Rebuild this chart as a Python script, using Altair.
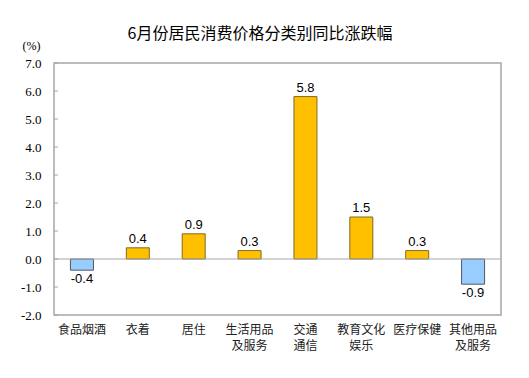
import altair as alt
import pandas as pd

categories = ["食品烟酒", "衣着", "居住", "生活用品\n及服务", "交通\n通信", "教育文化\n娱乐", "医疗保健", "其他用品\n及服务"]
values = [-0.4, 0.4, 0.9, 0.3, 5.8, 1.5, 0.3, -0.9]
y_ticks = [-2.0, -1.0, 0.0, 1.0, 2.0, 3.0, 4.0, 5.0, 6.0, 7.0]
title_text = "6月份居民消费价格分类别同比涨跌幅"

df = pd.DataFrame({"cat": categories, "val": values})
df["sign"] = ["neg" if v < 0 else "pos" for v in values]
df["lab"] = [f"{v:.1f}" for v in values]
ticks_df = pd.DataFrame({"t": y_ticks})

serif = "Liberation Serif"

yscale = alt.Scale(domain=[-2, 7], nice=False, zero=False)
yaxis = alt.Axis(values=y_ticks, title="(%)", titleAngle=0,
                 titleX=-23, titleY=-18, titleAlign="center", titleBaseline="middle",
                 titleFont=serif, titleFontSize=12, titleFontWeight="normal",
                 titleColor="#000000",
                 labelExpr="(datum.value < 0 ? '-' : '') + format(abs(datum.value), '.1f')",
                 labelFont=serif, labelFontSize=13, labelColor="#000000",
                 labelPadding=13, ticks=False, domain=False, grid=False,
                 labelOverlap=False)
xaxis = alt.Axis(title=None, labelAngle=0, ticks=False, domain=False,
                 labelExpr="split(datum.label, '\\n')",
                 labelFont="Noto Sans CJK SC", labelFontSize=12,
                 labelColor="#222222", labelPadding=9, labelLineHeight=16,
                 labelOverlap=False, labelLimit=60)

base = alt.Chart(df)

bars = base.mark_bar(size=23, strokeWidth=1).encode(
    x=alt.X("cat:N", sort=categories, axis=xaxis),
    y=alt.Y("val:Q", scale=yscale, axis=yaxis),
    color=alt.Color("sign:N", scale=alt.Scale(domain=["pos", "neg"], range=["#FFC000", "#99CCFF"]), legend=None),
    stroke=alt.Stroke("sign:N", scale=alt.Scale(domain=["pos", "neg"], range=["#7F6A20", "#4D5A66"]), legend=None),
)

zero = alt.Chart(pd.DataFrame({"z": [0]})).mark_rule(color="#A6A6A6", strokeWidth=1).encode(
    y=alt.Y("z:Q", scale=yscale, axis=yaxis)
)

tick_marks = alt.Chart(ticks_df).mark_rule(color="#A6A6A6", strokeWidth=1).encode(
    y=alt.Y("t:Q", scale=yscale, axis=yaxis), x=alt.value(0), x2=alt.value(4)
)

pos_labels = base.transform_filter("datum.val >= 0").mark_text(
    baseline="bottom", dy=-2, font="Liberation Sans", fontSize=13, color="#000000"
).encode(x=alt.X("cat:N", sort=categories, axis=xaxis), y=alt.Y("val:Q", scale=yscale, axis=yaxis), text="lab:N")

neg_labels = base.transform_filter("datum.val < 0").mark_text(
    baseline="top", dy=3, font="Liberation Sans", fontSize=13, color="#000000"
).encode(x=alt.X("cat:N", sort=categories, axis=xaxis), y=alt.Y("val:Q", scale=yscale, axis=yaxis), text="lab:N")

title = alt.Chart(pd.DataFrame({"t": [title_text]})).mark_text(
    font="Noto Sans CJK SC", fontSize=16, color="#000000", align="center", baseline="middle"
).encode(text="t:N", x=alt.value(206), y=alt.value(-29))

chart = alt.layer(bars, zero, tick_marks, pos_labels, neg_labels, title).properties(
    width=447, height=252,
    autosize=alt.AutoSizeParams(type="none"),
    padding={"left": 46, "top": 55, "right": 20, "bottom": 55},
).configure_view(stroke="#A6A6A6", strokeWidth=1.5)

chart.save("out.html", embed_options={"renderer": "svg", "actions": False})
